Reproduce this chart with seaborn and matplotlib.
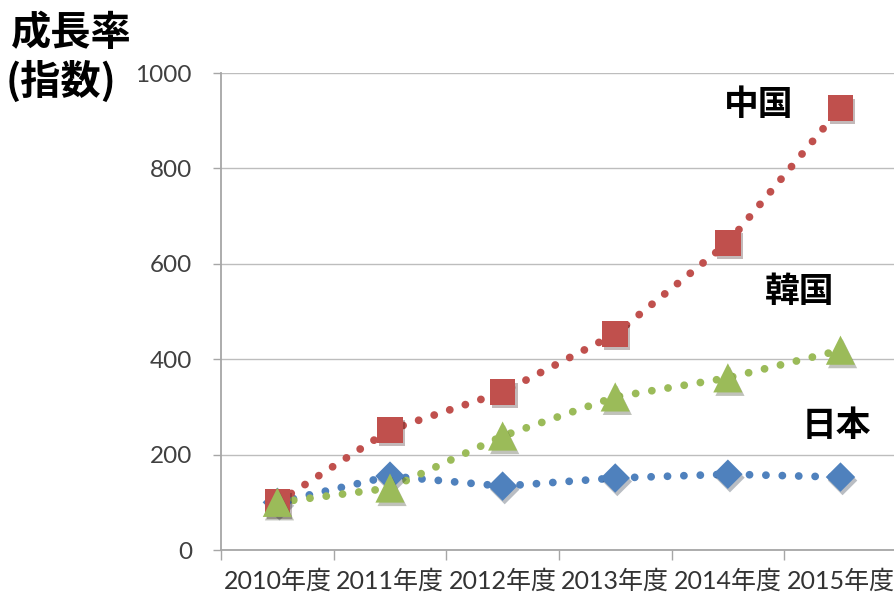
import pandas as pd
import matplotlib
matplotlib.use("Agg")
import matplotlib.pyplot as plt
import matplotlib.patheffects as pe
import seaborn as sns

# Données (indice, 2010年度 = 100)
annees = ["2010年度", "2011年度", "2012年度", "2013年度", "2014年度", "2015年度"]
chine = [100, 252, 331, 453, 644, 927]
coree = [100, 130, 239, 321, 361, 419]
japon = [100, 155, 134, 151, 159, 153]

series = [
    # (nom, valeurs, couleur, marqueur, taille)
    ("日本", japon, "#4F81BD", "D", 15),
    ("中国", chine, "#C0504D", "s", 18.5),
    ("韓国", coree, "#9BBB59", "^", 21),
]

sns.set_style("white")
plt.rcParams["font.family"] = ["Lato", "Noto Sans CJK JP", "DejaVu Sans"]

fig = plt.figure(figsize=(8.95, 5.94), dpi=100)
ax = fig.add_axes([0.247, 0.074, 0.755, 0.803])

x = list(range(len(annees)))
for nom, vals, couleur, marqueur, taille in series:
    df = pd.DataFrame({"x": x, "y": vals})
    sns.lineplot(data=df, x="x", y="y", ax=ax, color=couleur, linewidth=5.6,
                 dashes=False, zorder=2)
    ligne = ax.lines[-1]
    ligne.set_dashes((0.01, 2.1))
    ligne.set_dash_capstyle("round")
    sns.scatterplot(data=df, x="x", y="y", ax=ax, color=couleur, marker=marqueur,
                    s=taille ** 2, linewidth=0, zorder=3)
    ax.collections[-1].set_path_effects([
        pe.SimplePatchShadow(offset=(1.5, -2.5), alpha=0.3, rho=0.3),
        pe.Normal(),
    ])

ax.set_xlim(-0.5, 5.5)
ax.set_ylim(0, 1000)
ax.set_yticks([0, 200, 400, 600, 800, 1000])
ax.set_xticks([i - 0.5 for i in range(7)], minor=False)
ax.set_xticklabels([])
ax.set_xticks(x, minor=True)
ax.set_xticklabels(annees, minor=True)
ax.set_xlabel("")
ax.set_ylabel("")

ax.grid(axis="y", color="#BDBDBD", linewidth=1.0)
ax.grid(axis="x", visible=False)
for cote in ["top", "right"]:
    ax.spines[cote].set_visible(False)
for cote in ["left", "bottom"]:
    ax.spines[cote].set_color("#A6A6A6")
    ax.spines[cote].set_linewidth(1.3)

ax.tick_params(axis="y", which="major", direction="out", length=6, width=1,
               color="#A6A6A6", labelsize=17.5, labelcolor="#404040", pad=15, left=True)
ax.tick_params(axis="x", which="major", direction="out", length=7, width=1,
               color="#A6A6A6", bottom=True)
ax.tick_params(axis="x", which="minor", length=0, labelsize=18,
               labelcolor="#333333", pad=14)

# Étiquettes des séries et titre de l'axe
ax.text(4.27, 935, "中国", fontsize=25, fontweight="bold", ha="center", va="center",
        color="black", family=["Noto Sans CJK JP"])
ax.text(4.64, 541, "韓国", fontsize=25, fontweight="bold", ha="center", va="center",
        color="black", family=["Noto Sans CJK JP"])
ax.text(4.96, 262, "日本", fontsize=25, fontweight="bold", ha="center", va="center",
        color="black", family=["Noto Sans CJK JP"])

fig.text(0.012, 0.944, "成長率", fontsize=29, fontweight="bold", ha="left",
         va="center", color="black", family=["Noto Sans CJK JP"])
fig.text(0.006, 0.862, "(指数)", fontsize=29, fontweight="bold", ha="left",
         va="center", color="black", family=["Noto Sans CJK JP"])

fig.savefig("out.png", dpi=100)
